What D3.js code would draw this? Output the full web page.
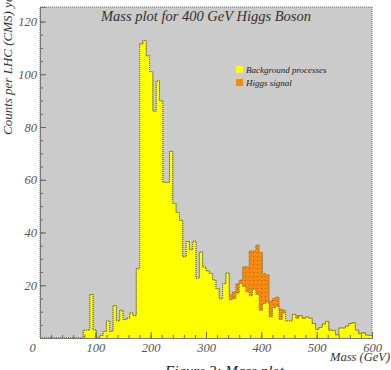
<!DOCTYPE html>
<html>
<head>
<meta charset="utf-8">
<script src="https://cdn.jsdelivr.net/npm/d3@7/dist/d3.min.js"></script>
<style>
  html, body { margin: 0; padding: 0; background: #fff; overflow: hidden; }
  text { font-family: "Liberation Serif", "DejaVu Serif", serif; font-style: italic; }
</style>
</head>
<body>
<svg id="chart" width="391" height="370"></svg>
<script>
// 100 bins of 6 GeV, 0..600
var binWidth = 6;

var background = [
  0, 0, 0, 0, 0, 0, 0, 0, 0, 0,
  0, 0, 0, 3, 3, 16.5, 3, 0, 1, 2.5,
  6.5, 2.5, 12.3, 6.5, 10.5, 7, 7.5, 9.5, 8.5, 26.3,
  111.5, 112.8, 107, 101, 86, 97.5, 90, 59, 59, 70.8,
  51, 47.6, 44.6, 30.8, 36.6, 33.5, 36.7, 22.7, 32.6, 26.9,
  25.5, 24.5, 22, 18.7, 14.9, 20.6, 24.6, 14.5, 15, 17,
  20.5, 19.5, 17.5, 16, 18.5, 16.5, 10.5, 13, 13.5, 8,
  11.5, 12, 7, 9.5, 6.5, 6.5, 9, 7.5, 8.5, 7.5,
  8, 7.5, 5.5, 3.3, 4, 5.3, 6.3, 3, 2.9, 1.2,
  3.8, 3.8, 4.5, 5.5, 5.8, 3, 1.6, 2, 1.1, 1
];

var signal = [
  0, 0, 0, 0, 0, 0, 0, 0, 0, 0,
  0, 0, 0, 0, 0, 0, 0, 0, 0, 0,
  0, 0, 0, 0, 0, 0, 0, 0, 0, 0,
  0, 0, 0, 0, 0, 0, 0, 0, 0, 0,
  0, 0, 0, 0, 0, 0, 0, 0, 0, 0,
  0, 0, 0, 0, 0, 0, 0, 2, 2.5, 3.5,
  1.5, 7.5, 9.5, 17, 14.5, 18.8, 22, 11.5, 10.5, 6,
  3.5, 3.5, 4, 1, 0, 0, 0, 1, 0, 0,
  0, 0, 0, 0, 0, 0, 0, 0, 0, 0,
  0, 0, 0, 0, 0, 0, 0, 0, 0, 0
];

var xTicks = [0, 100, 200, 300, 400, 500, 600];
var yTicks = [20, 40, 60, 80, 100, 120];
var legendLabels = ["Background processes", "Higgs signal"];

var svg = d3.select("#chart"),
  margin = { top: 7, right: 19, bottom: 32, left: 40 },
  width = +svg.attr("width") - margin.left - margin.right,
  height = +svg.attr("height") - margin.top - margin.bottom;

var x = d3.scaleLinear().domain([0, 600]).range([0, width]);
var y = d3.scaleLinear().domain([0, 125.5]).range([height, 0]);

var defs = svg.append("defs");
var pat = defs.append("pattern")
  .attr("id", "dots")
  .attr("patternUnits", "userSpaceOnUse")
  .attr("width", 4).attr("height", 4);
pat.append("rect").attr("width", 4).attr("height", 4).attr("fill", "#f58a10");
pat.append("rect").attr("x", 1).attr("y", 1).attr("width", 1).attr("height", 1).attr("fill", "#b85a10");

var g = svg.append("g").attr("transform", "translate(" + margin.left + "," + margin.top + ")");

// frame
g.append("rect")
  .attr("width", width).attr("height", height)
  .attr("fill", "#cbcbcb")
  .attr("stroke", "#666")
  .attr("stroke-dasharray", "1,1");

var edges = d3.range(101);
var val = function (arr, k) { return arr[Math.min(k, 99)]; };
var total = background.map(function (b, i) { return b + signal[i]; });

var bgArea = d3.area()
  .x(function (k) { return x(k * binWidth); })
  .y0(y(0))
  .y1(function (k) { return y(val(background, k)); })
  .curve(d3.curveStepAfter);

var sigArea = d3.area()
  .x(function (k) { return x(k * binWidth); })
  .y0(function (k) { return y(val(background, k)); })
  .y1(function (k) { return y(val(total, k)); })
  .curve(d3.curveStepAfter);

var line = function (arr) {
  return d3.line()
    .x(function (k) { return x(k * binWidth); })
    .y(function (k) { return y(val(arr, k)); })
    .curve(d3.curveStepAfter);
};

g.append("path").datum(edges)
  .attr("d", bgArea)
  .attr("fill", "#ffff00");

g.append("path").datum(edges)
  .attr("d", sigArea)
  .attr("fill", "url(#dots)");

g.append("path").datum(edges)
  .attr("d", line(background))
  .attr("fill", "none")
  .attr("stroke", "#707050")
  .attr("stroke-width", 1)
  .attr("stroke-dasharray", "1,1");

g.append("path").datum(edges)
  .attr("d", line(total))
  .attr("fill", "none")
  .attr("stroke", "#707050")
  .attr("stroke-width", 1)
  .attr("stroke-dasharray", "1,1");

// axes (ticks pointing inward)
g.append("g")
  .attr("transform", "translate(0," + height + ")")
  .call(d3.axisBottom(x).tickValues(d3.range(0, 601, 20)).tickSize(-3).tickFormat(""));
var xMajor = g.append("g")
  .attr("class", "axis axis--x")
  .attr("transform", "translate(0," + height + ")")
  .call(d3.axisBottom(x).tickValues(xTicks).tickSize(-6).tickPadding(5).tickFormat(d3.format("d")));

g.append("g")
  .call(d3.axisLeft(y).tickValues(d3.range(0, 125, 5)).tickSize(-3).tickFormat(""));
g.append("g")
  .attr("class", "axis axis--y")
  .call(d3.axisLeft(y).tickValues(yTicks).tickSize(-6).tickPadding(3).tickFormat(d3.format("d")));

g.selectAll(".domain").attr("stroke", "#777");
g.selectAll(".tick line").attr("stroke", "#666");
g.selectAll(".tick text")
  .attr("fill", "#555")
  .style("font-size", "12.5px")
  .style("font-family", "'Liberation Serif', serif")
  .style("font-style", "italic");
xMajor.selectAll(".tick text").filter(function (d) { return d === 0; }).attr("x", -8);

// title
svg.append("text")
  .attr("x", 206).attr("y", 21)
  .attr("text-anchor", "middle")
  .attr("fill", "#333")
  .style("font-size", "14.5px")
  .text("Mass plot for 400 GeV Higgs Boson");

// axis titles (both run past the window edge, as in the original)
svg.append("text")
  .attr("transform", "translate(12,135) rotate(-90)")
  .attr("fill", "#333")
  .style("font-size", "13px")
  .text("Counts per LHC (CMS) year");

svg.append("text")
  .attr("x", 330).attr("y", 361)
  .attr("fill", "#333")
  .style("font-size", "12.5px")
  .text("Mass (GeV)");

// caption, cut by the window bottom
svg.append("text")
  .attr("x", 165).attr("y", 376)
  .attr("fill", "#222")
  .style("font-size", "15px")
  .text("Figure 3: Mass plot");

// legend
var legend = svg.append("g").attr("transform", "translate(236,66)");
var legendFills = ["#ffff00", "#f58a10"];
legend.selectAll("rect")
  .data(legendLabels)
  .enter().append("rect")
  .attr("x", 0).attr("y", function (d, i) { return i * 13; })
  .attr("width", 7).attr("height", 7)
  .attr("fill", function (d, i) { return legendFills[i]; });
legend.selectAll("text")
  .data(legendLabels)
  .enter().append("text")
  .attr("x", 10).attr("y", function (d, i) { return i * 13 + 7; })
  .attr("fill", "#222")
  .style("font-size", "9px")
  .text(function (d) { return d; });
</script>
</body>
</html>
